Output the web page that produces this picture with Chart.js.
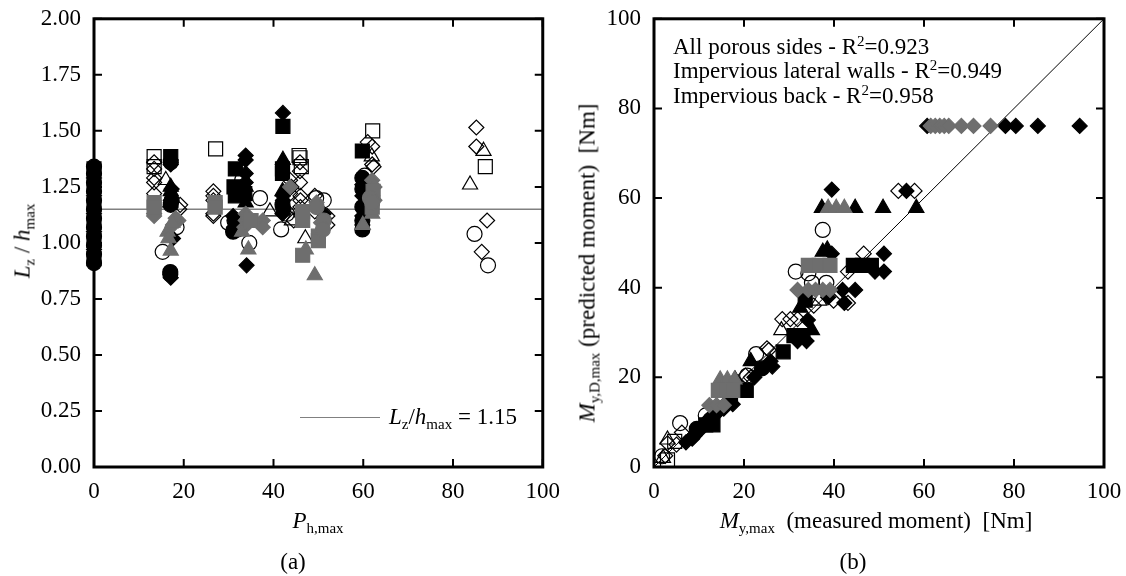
<!DOCTYPE html>
<html>
<head>
<meta charset="utf-8">
<script src="https://cdn.jsdelivr.net/npm/chart.js@4/dist/chart.umd.min.js"></script>
<style>
  body { margin: 0; background: #fff; }
  #wrap { position: relative; width: 1126px; height: 576px; font-family: "Liberation Serif", "Times New Roman", serif; color: #000; }
  canvas { position: absolute; top: 0; }
  .lbl { position: absolute; white-space: nowrap; font-size: 23px; line-height: 1; }
  .sub { font-size: 15px; position: relative; top: 5px; font-style: normal; }
  .sup { font-size: 15px; position: relative; top: -8px; }
  .rot { transform: translate(-50%, -50%) rotate(-90deg); }
  .ctr { transform: translate(-50%, -50%); }
</style>
</head>
<body>
<div id="wrap">
  <canvas id="chartA" width="563" height="576" style="left:0"></canvas>
  <canvas id="chartB" width="563" height="576" style="left:563px"></canvas>

  <div class="lbl rot" style="left:22px; top:241px"><i>L</i><span class="sub">z</span> / <i>h</i><span class="sub">max</span></div>
  <div class="lbl ctr" style="left:318px; top:520px"><i>P</i><span class="sub">h,max</span></div>
  <div class="lbl ctr" style="left:293px; top:561px">(a)</div>
  <div style="position:absolute; left:300px; top:417px; width:80px; border-top:1.5px solid #808080"></div>
  <div class="lbl" style="left:389px; top:405px"><i>L</i><span class="sub">z</span>/<i>h</i><span class="sub">max</span> = 1.15</div>

  <div class="lbl rot" style="left:587px; top:263px"><i>M</i><span class="sub">y,D,max</span> (predicted moment)&nbsp; [Nm]</div>
  <div class="lbl ctr" style="left:876px; top:520px"><i>M</i><span class="sub">y,max</span>&nbsp; (measured moment)&nbsp; [Nm]</div>
  <div class="lbl ctr" style="left:853px; top:561px">(b)</div>
  <div class="lbl" style="left:673px; top:35px">All porous sides - R<span class="sup">2</span>=0.923</div>
  <div class="lbl" style="left:673px; top:59px">Impervious lateral walls - R<span class="sup">2</span>=0.949</div>
  <div class="lbl" style="left:673px; top:84px">Impervious back - R<span class="sup">2</span>=0.958</div>
</div>

<script>
// (a) L_z / h_max against P_h,max
const xTicksA = [0, 20, 40, 60, 80, 100];
const yTicksA = [0, 0.25, 0.5, 0.75, 1, 1.25, 1.5, 1.75, 2];
const refRatio = 1.15;

const aBlackCircle = [[0, 0.91], [0, 0.95], [0, 0.99], [0, 1.03], [0, 1.07], [0, 1.11], [0, 1.15], [0, 1.19], [0, 1.23], [0, 1.27], [0, 1.31], [0, 1.34],
  [17.1, 1.36], [17.1, 1.17], [17.3, 1.19], [17.0, 0.87], [17.0, 0.86],
  [31.3, 1.10], [31.0, 1.05], [32.0, 1.06], [42.0, 1.17], [42.2, 1.15],
  [59.8, 1.29], [59.8, 1.24], [59.8, 1.16], [59.8, 1.10], [59.8, 1.06]];
const aBlackSquare = [[0, 0.93], [0, 1.01], [0, 1.09], [0, 1.17], [0, 1.25], [0, 1.33],
  [17.1, 1.385], [31.5, 1.33], [31.2, 1.25], [31.5, 1.21], [33.6, 1.22],
  [42.1, 1.52], [42.0, 1.33], [42.0, 1.31], [59.8, 1.41]];
const aBlackTriangle = [[17.1, 1.25], [17.1, 1.23], [17.2, 1.20], [17.0, 1.18],
  [33.8, 1.25], [33.6, 1.21], [33.8, 1.18], [42.1, 1.37], [42.0, 1.23]];
const aBlackDiamond = [[0, 0.97], [0, 1.05], [0, 1.13], [0, 1.21], [0, 1.29],
  [17.1, 1.37], [17.1, 1.35], [17.3, 1.24], [17.1, 1.19], [17.6, 1.02], [17.1, 0.845],
  [33.8, 1.39], [33.8, 1.37], [33.8, 1.31], [33.8, 1.27], [31.0, 1.12], [31.2, 1.07], [34.0, 0.90], [32.0, 1.10],
  [42.1, 1.58], [42.1, 1.21], [42.1, 1.19], [42.1, 1.16], [42.0, 1.13], [44.0, 1.25], [51.2, 1.13], [51.2, 1.11],
  [59.8, 1.26], [59.8, 1.21], [59.8, 1.12], [59.8, 1.08]];

const aGrayCircle = [[49.6, 1.16], [51.2, 1.10], [51.0, 1.06], [61.5, 1.20], [62.0, 1.18]];
const aGraySquare = [[13.4, 1.18], [13.4, 1.16], [27.0, 1.18], [27.0, 1.16], [35.0, 1.10],
  [46.5, 1.14], [46.5, 1.10], [46.5, 0.945], [50.0, 1.03], [50.0, 1.01], [62.2, 1.23], [62.0, 1.16]];
const aGrayTriangle = [[16.4, 1.05], [16.6, 1.02], [17.1, 0.965], [17.5, 1.09], [33.0, 1.05], [34.4, 0.97], [34.0, 1.12],
  [47.2, 0.97], [49.2, 0.855], [59.9, 1.08], [62.0, 1.13]];
const aGrayDiamond = [[13.4, 1.13], [13.4, 1.12], [18.8, 1.10], [17.6, 1.08], [18.2, 1.11],
  [33.8, 1.13], [33.8, 1.10], [33.5, 1.07], [37.6, 1.10], [37.6, 1.07],
  [43.7, 1.25], [49.6, 1.18], [50.6, 1.09], [62.0, 1.28], [62.5, 1.25], [62.0, 1.21], [62.5, 1.19]];

const aOpenCircle = [[18.4, 1.07], [15.3, 0.96], [37.0, 1.20], [29.9, 1.09], [34.6, 1.00], [33.0, 1.28],
  [41.7, 1.06], [43.0, 1.13], [51.2, 1.19], [49.5, 1.20], [60.3, 1.30], [84.8, 1.04], [87.8, 0.90]];
const aOpenSquare = [[13.4, 1.385], [13.4, 1.34], [27.1, 1.42], [45.7, 1.39], [45.9, 1.38], [46.2, 1.34],
  [62.1, 1.50], [87.2, 1.34]];
const aOpenTriangle = [[16.0, 1.28], [39.2, 1.14], [44.1, 1.10], [47.1, 1.02], [61.9, 1.385], [86.8, 1.41], [83.8, 1.26]];
const aOpenDiamond = [[13.4, 1.36], [13.4, 1.33], [13.4, 1.29], [13.4, 1.27], [13.4, 1.22], [19.2, 1.17], [19.0, 1.15],
  [26.6, 1.23], [26.6, 1.21], [26.6, 1.19], [26.6, 1.13], [26.6, 1.12],
  [43.7, 1.28], [43.7, 1.22], [45.9, 1.36], [45.9, 1.32], [45.9, 1.27], [46.0, 1.21], [46.0, 1.19], [46.0, 1.16],
  [49.2, 1.21], [49.2, 1.14], [52.0, 1.12], [52.0, 1.08], [44.5, 1.10],
  [61.0, 1.45], [62.0, 1.43], [62.0, 1.35], [62.3, 1.34], [85.2, 1.515], [85.2, 1.43], [87.6, 1.10], [86.4, 0.96]];

// (b) predicted against measured moment [Nm]
const xTicksB = [0, 20, 40, 60, 80, 100];
const yTicksB = [0, 20, 40, 60, 80, 100];
const parity = [0, 100];

const bBlackCircle = [[24.0, 22.0], [9.5, 8.5]];
const bBlackSquare = [[44.3, 45.0], [46.3, 45.0], [48.3, 45.0], [33.6, 37.2], [31.1, 29.3], [33.1, 29.3], [28.7, 25.7],
  [19.9, 17.1], [20.5, 17.1], [17.0, 16.0], [11.5, 9.4], [13.1, 9.4]];
const bBlackTriangle = [[37.3, 57.8], [44.7, 57.8], [50.9, 57.8], [58.3, 57.8], [37.5, 48.0], [38.5, 48.5],
  [32.5, 35.5], [35.1, 30.5], [21.5, 23.6], [18.0, 19.5], [16.5, 15.0]];
const bBlackDiamond = [[60.7, 76.1], [78.1, 76.1], [80.4, 76.1], [85.3, 76.1], [94.6, 76.1],
  [39.5, 61.9], [56.1, 61.6], [39.5, 47.6], [51.1, 47.6], [49.1, 43.6], [51.1, 43.6],
  [41.9, 39.5], [44.7, 39.5], [38.7, 37.9], [42.3, 36.6], [34.2, 32.8], [31.9, 28.1], [33.9, 28.1],
  [25.9, 23.6], [26.3, 22.4], [22.3, 20.0], [17.5, 14.0], [15.5, 13.0], [13.5, 11.5], [12.0, 10.5],
  [11.0, 9.5], [10.0, 8.0], [9.0, 7.0], [8.5, 6.3], [7.1, 5.5]];

const bGraySquare = [[34.3, 45.0], [36.7, 45.0], [39.1, 45.0], [14.3, 17.1], [15.9, 17.1], [17.5, 17.1]];
const bGrayTriangle = [[38.7, 57.8], [40.5, 57.8], [42.3, 57.8], [14.7, 19.5], [16.3, 19.5], [17.9, 19.5]];
const bGrayDiamond = [[61.5, 76.1], [62.5, 76.1], [63.5, 76.1], [64.5, 76.1], [65.5, 76.1], [68.3, 76.1], [71.0, 76.1], [74.8, 76.1],
  [31.9, 39.5], [34.3, 39.5], [35.9, 39.5], [37.5, 39.5], [39.1, 39.5], [12.3, 13.8], [13.9, 13.8], [15.5, 13.8]];

const bOpenCircle = [[37.5, 52.9], [31.5, 43.6], [34.3, 43.2], [35.1, 41.1], [38.3, 41.1], [22.7, 25.2], [20.7, 20.4],
  [5.8, 9.8], [11.5, 11.5], [12.5, 10.5], [1.8, 2.4]];
const bOpenSquare = [[4.6, 5.7], [3.0, 1.6]];
const bOpenTriangle = [[36.7, 37.1], [28.3, 30.5], [3.0, 6.1], [2.0, 2.0]];
const bOpenDiamond = [[54.3, 61.6], [57.9, 61.6], [46.6, 47.6], [43.1, 43.6], [39.9, 37.1], [43.1, 36.6], [35.5, 36.0],
  [28.5, 33.0], [30.3, 33.0], [31.9, 33.0], [25.1, 26.5], [25.5, 26.1], [20.3, 20.4], [21.5, 20.0],
  [6.2, 7.7], [5.0, 5.0], [3.0, 5.3], [2.5, 2.5]];

const FILLS = {
  black: { bg: '#000000', line: '#000000', order: 2 },
  gray: { bg: '#6e6e6e', line: '#6e6e6e', order: 1 },
  open: { bg: 'rgba(0,0,0,0)', line: '#000000', order: 3 }
};
const SHAPES = {
  circle: ['circle', 7.5],
  square: ['rect', 9.9],
  triangle: ['triangle', 8.7],
  diamond: ['rectRot', 7.5]
};
const FONT = { family: '"Liberation Serif", "Times New Roman", serif', size: 23 };

function markers(points, fill, shape) {
  const f = FILLS[fill];
  const [style, r] = SHAPES[shape];
  return {
    type: 'scatter',
    data: points.map(([x, y]) => ({ x, y })),
    pointStyle: style,
    pointRadius: r,
    pointHoverRadius: r,
    backgroundColor: f.bg,
    borderColor: f.line,
    pointBorderWidth: 1.2,
    clip: false,
    order: f.order
  };
}

function refLine(points, color, width) {
  return {
    type: 'line',
    data: points,
    borderColor: color,
    borderWidth: width,
    pointRadius: 0,
    fill: false,
    order: 10
  };
}

// closed frame with inward ticks on all four sides
const frameTicks = {
  id: 'frameTicks',
  afterDraw(chart) {
    const { ctx, chartArea: a, scales } = chart;
    const len = 8;
    ctx.save();
    ctx.strokeStyle = '#000';
    ctx.lineWidth = 2;
    ctx.beginPath();
    scales.x.ticks.forEach(t => {
      const px = scales.x.getPixelForValue(t.value);
      ctx.moveTo(px, a.bottom); ctx.lineTo(px, a.bottom - len);
      ctx.moveTo(px, a.top); ctx.lineTo(px, a.top + len);
    });
    scales.y.ticks.forEach(t => {
      const py = scales.y.getPixelForValue(t.value);
      ctx.moveTo(a.left, py); ctx.lineTo(a.left + len, py);
      ctx.moveTo(a.right, py); ctx.lineTo(a.right - len, py);
    });
    ctx.stroke();
    ctx.lineWidth = 3;
    ctx.strokeRect(a.left, a.top, a.right - a.left, a.bottom - a.top);
    ctx.restore();
  }
};

function axes(xTicks, yTicks, yWidth, yFmt) {
  return {
    x: {
      type: 'linear', min: xTicks[0], max: xTicks[xTicks.length - 1],
      afterBuildTicks: s => { s.ticks = xTicks.map(v => ({ value: v })); },
      afterFit: s => { s.height = 109; },
      grid: { display: false }, border: { display: false },
      ticks: { color: '#000', font: FONT, padding: 3, maxRotation: 0 }
    },
    y: {
      type: 'linear', min: yTicks[0], max: yTicks[yTicks.length - 1],
      afterBuildTicks: s => { s.ticks = yTicks.map(v => ({ value: v })); },
      afterFit: s => { s.width = yWidth; },
      grid: { display: false }, border: { display: false },
      ticks: { color: '#000', font: FONT, padding: 5, callback: yFmt }
    }
  };
}

function baseOptions(scales, padRight) {
  return {
    responsive: false,
    animation: false,
    layout: { padding: { top: 17, right: padRight, left: 0, bottom: 0 } },
    plugins: { legend: { display: false }, tooltip: { enabled: false } },
    scales
  };
}

new Chart(document.getElementById('chartA'), {
  type: 'scatter',
  data: {
    datasets: [
      refLine([{ x: xTicksA[0], y: refRatio }, { x: xTicksA[xTicksA.length - 1], y: refRatio }], '#808080', 1.5),
      markers(aOpenCircle, 'open', 'circle'),
      markers(aOpenSquare, 'open', 'square'),
      markers(aOpenTriangle, 'open', 'triangle'),
      markers(aOpenDiamond, 'open', 'diamond'),
      markers(aBlackCircle, 'black', 'circle'),
      markers(aBlackSquare, 'black', 'square'),
      markers(aBlackTriangle, 'black', 'triangle'),
      markers(aBlackDiamond, 'black', 'diamond'),
      markers(aGrayCircle, 'gray', 'circle'),
      markers(aGraySquare, 'gray', 'square'),
      markers(aGrayTriangle, 'gray', 'triangle'),
      markers(aGrayDiamond, 'gray', 'diamond')
    ]
  },
  options: baseOptions(axes(xTicksA, yTicksA, 94, v => v.toFixed(2)), 19),
  plugins: [frameTicks]
});

new Chart(document.getElementById('chartB'), {
  type: 'scatter',
  data: {
    datasets: [
      refLine([{ x: parity[0], y: parity[0] }, { x: parity[1], y: parity[1] }], '#000000', 1),
      markers(bOpenCircle, 'open', 'circle'),
      markers(bOpenSquare, 'open', 'square'),
      markers(bOpenTriangle, 'open', 'triangle'),
      markers(bOpenDiamond, 'open', 'diamond'),
      markers(bBlackCircle, 'black', 'circle'),
      markers(bBlackSquare, 'black', 'square'),
      markers(bBlackTriangle, 'black', 'triangle'),
      markers(bBlackDiamond, 'black', 'diamond'),
      markers(bGraySquare, 'gray', 'square'),
      markers(bGrayTriangle, 'gray', 'triangle'),
      markers(bGrayDiamond, 'gray', 'diamond')
    ]
  },
  options: baseOptions(axes(xTicksB, yTicksB, 91, v => v), 22),
  plugins: [frameTicks]
});
</script>
</body>
</html>
